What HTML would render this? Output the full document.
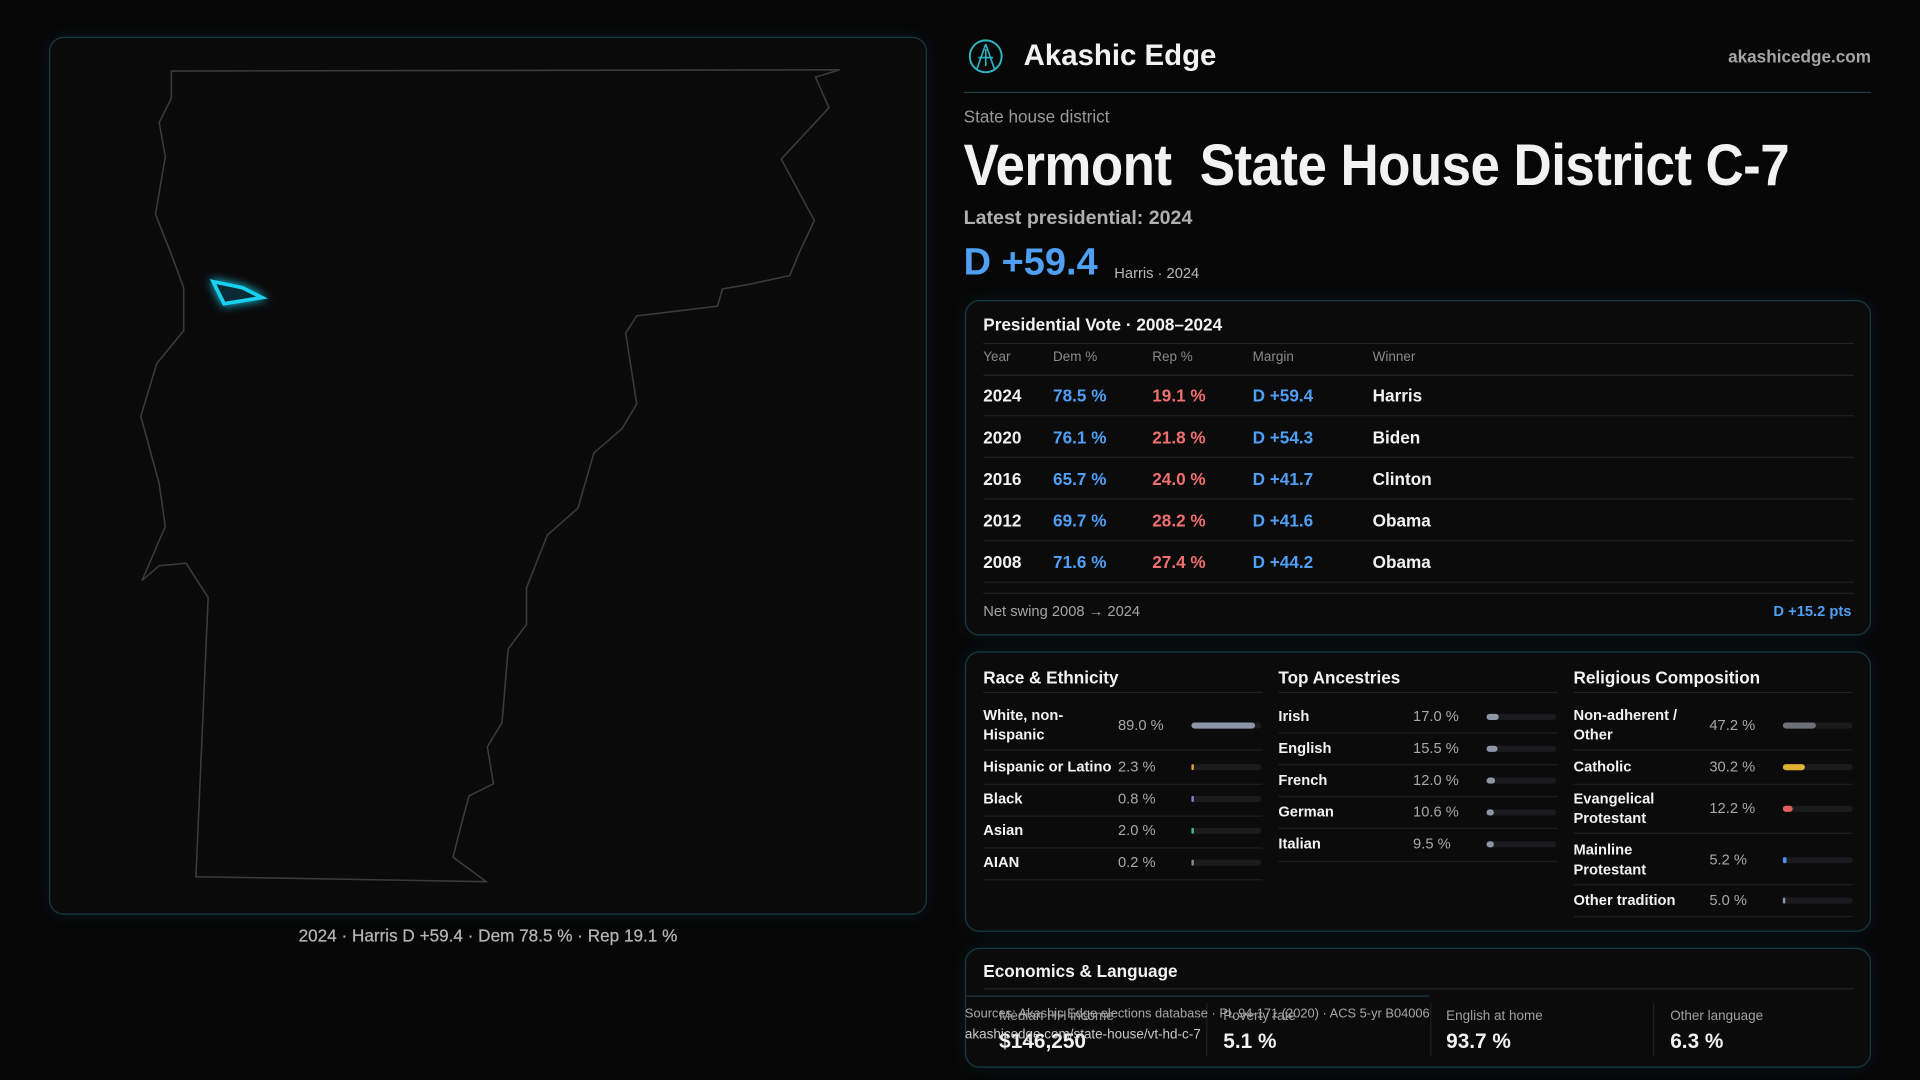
<!DOCTYPE html>
<html><head><meta charset="utf-8"><style>
*{margin:0;padding:0;box-sizing:border-box}
html,body{width:1920px;height:1080px;background:#070707;overflow:hidden}
#s{position:absolute;left:0;top:0;width:1568px;height:882px;transform:scale(1.22449);transform-origin:0 0;font-family:"Liberation Sans",sans-serif;color:#f2f2f2}
.a{position:absolute;white-space:nowrap}
.card{position:absolute;background:#0b0b0c;border:1px solid #173a42;border-radius:12px;box-shadow:0 0 14px rgba(20,90,110,.18)}
.hl{position:absolute;height:1px;background:#222}
.g{color:#a9a9a9}
.b{color:#4f9ff5}.r{color:#f07070}
.track{position:absolute;height:5px;border-radius:3px;background:#1b1b1d}
.fill{position:absolute;left:0;top:0;height:5px;border-radius:3px}
</style></head><body><div id="s">
<div class="card" style="left:40px;top:30px;width:717px;height:717px;background:#0a0a0b"></div>
<svg class="a" style="left:0;top:0" width="1568" height="882" viewBox="0 0 1568 882">
<polygon fill="none" stroke="#3a3a3c" stroke-width="1.3" points="140,58 686,57 666,63 677,88 638,130 665,180 652,208 645,225 613,232 590,236 586,250 520,258 511,272 520,330 508,350 485,370 472,415 447,437 430,480 430,510 415,530 410,590 398,610 403,640 383,650 375,680 370,700 397,720 160,716 170,488 152,460 130,462 116,474 135,430 130,395 115,340 128,297 150,270 150,235 140,208 127,175 135,128 130,100 140,80"/>
<polygon fill="#0c2a33" stroke="#19d0ef" stroke-width="3" style="filter:drop-shadow(0 0 4px #19d0ef)" points="174,230 198,235 214,243 183,248"/>
</svg>
<div class="a g" style="left:0;width:797px;text-align:center;top:756px;font-size:14px;color:#b5b5b5;-webkit-text-stroke:0.2px #b5b5b5">2024 · Harris D +59.4 · Dem 78.5 % · Rep 19.1 %</div>

<svg class="a" style="left:790px;top:31px" width="30" height="30" viewBox="0 0 30 30"><circle cx="15" cy="15" r="13" fill="none" stroke="#2fb6c4" stroke-width="1.6"/><path d="M15 5 L8 25 M15 5 L22 25 M9 16 H21 M15 9 V23" stroke="#2fb6c4" stroke-width="1.3" fill="none"/></svg>
<div class="a" style="left:836px;top:32px;font-size:24px;font-weight:bold">Akashic Edge</div>
<div class="a g" style="right:40px;top:38px;font-size:14px;font-weight:bold;color:#a5a5a5">akashicedge.com</div>
<div class="hl" style="left:787px;top:75px;width:741px;background:#1d3a40"></div>
<div class="a g" style="left:787px;top:87px;font-size:14px;color:#9a9a9a">State house district</div>
<div class="a" style="left:787px;top:108px;font-size:48px;font-weight:bold;transform:scaleX(.9);transform-origin:0 0;letter-spacing:-.5px">Vermont&nbsp; State House District C-7</div>
<div class="a g" style="left:787px;top:170px;font-size:16px;font-weight:bold;color:#b0b0b0">Latest presidential: 2024</div>
<div class="a b" style="left:787px;top:196px;font-size:31px;font-weight:bold">D +59.4</div>
<div class="a g" style="left:910px;top:216px;font-size:12px;color:#b8b8b8">Harris · 2024</div>

<div class="card" style="left:788px;top:245px;width:740px;height:274px">
 <div class="a" style="left:14px;top:11px;font-size:14px;font-weight:bold">Presidential Vote · 2008–2024</div>
 <div class="hl" style="left:14px;top:34px;width:711px"></div>
 <div class="a g" style="left:14px;top:40px;font-size:11px;color:#8a8a8a">Year</div>
 <div class="a g" style="left:71px;top:40px;font-size:11px;color:#8a8a8a">Dem %</div>
 <div class="a g" style="left:152px;top:40px;font-size:11px;color:#8a8a8a">Rep %</div>
 <div class="a g" style="left:234px;top:40px;font-size:11px;color:#8a8a8a">Margin</div>
 <div class="a g" style="left:332px;top:40px;font-size:11px;color:#8a8a8a">Winner</div>
 <div class="hl" style="left:14px;top:60px;width:711px"></div>
 <div style="position:absolute;left:14px;top:60px;width:711px;font-size:14px;font-weight:bold">
  <div style="position:relative;height:34px;border-bottom:1px solid #1f1f1f"><span class="a" style="left:0;top:9px">2024</span><span class="a b" style="left:57px;top:9px">78.5 %</span><span class="a r" style="left:138px;top:9px">19.1 %</span><span class="a b" style="left:220px;top:9px">D +59.4</span><span class="a" style="left:318px;top:9px">Harris</span></div>
  <div style="position:relative;height:34px;border-bottom:1px solid #1f1f1f"><span class="a" style="left:0;top:9px">2020</span><span class="a b" style="left:57px;top:9px">76.1 %</span><span class="a r" style="left:138px;top:9px">21.8 %</span><span class="a b" style="left:220px;top:9px">D +54.3</span><span class="a" style="left:318px;top:9px">Biden</span></div>
  <div style="position:relative;height:34px;border-bottom:1px solid #1f1f1f"><span class="a" style="left:0;top:9px">2016</span><span class="a b" style="left:57px;top:9px">65.7 %</span><span class="a r" style="left:138px;top:9px">24.0 %</span><span class="a b" style="left:220px;top:9px">D +41.7</span><span class="a" style="left:318px;top:9px">Clinton</span></div>
  <div style="position:relative;height:34px;border-bottom:1px solid #1f1f1f"><span class="a" style="left:0;top:9px">2012</span><span class="a b" style="left:57px;top:9px">69.7 %</span><span class="a r" style="left:138px;top:9px">28.2 %</span><span class="a b" style="left:220px;top:9px">D +41.6</span><span class="a" style="left:318px;top:9px">Obama</span></div>
  <div style="position:relative;height:34px;border-bottom:1px solid #1f1f1f"><span class="a" style="left:0;top:9px">2008</span><span class="a b" style="left:57px;top:9px">71.6 %</span><span class="a r" style="left:138px;top:9px">27.4 %</span><span class="a b" style="left:220px;top:9px">D +44.2</span><span class="a" style="left:318px;top:9px">Obama</span></div>
 </div>
 <div class="hl" style="left:14px;top:238px;width:711px"></div>
 <div class="a g" style="left:14px;top:246px;font-size:12px;color:#a5a5a5">Net swing 2008 → 2024</div>
 <div class="a b" style="right:15px;top:246px;font-size:12px;font-weight:bold">D +15.2 pts</div>
</div>

<div class="card" style="left:788px;top:532px;width:740px;height:229px">
 <div class="a" style="left:14px;top:12px;font-size:14px;font-weight:bold">Race &amp; Ethnicity</div>
 <div class="a" style="left:255px;top:12px;font-size:14px;font-weight:bold">Top Ancestries</div>
 <div class="a" style="left:496px;top:12px;font-size:14px;font-weight:bold">Religious Composition</div>
 <div class="hl" style="left:14px;top:32px;width:228px"></div>
 <div class="hl" style="left:255px;top:32px;width:228px"></div>
 <div class="hl" style="left:496px;top:32px;width:228px"></div>
</div>
<div id="rows"></div>

<div class="card" style="left:788px;top:774px;width:740px;height:98px">
 <div class="a" style="left:14px;top:10px;font-size:14px;font-weight:bold">Economics &amp; Language</div>
 <div class="hl" style="left:14px;top:32px;width:711px"></div>
 <div class="hl" style="left:0;top:38px;width:378px;background:#1d3a40"></div>
 <div class="a g" style="left:27px;top:49px;font-size:11px;color:#a0a0a0">Median HH income</div>
 <div class="a" style="left:27px;top:66px;font-size:17px;font-weight:bold">$146,250</div>
 <div class="a g" style="left:210px;top:49px;font-size:11px;color:#a0a0a0">Poverty rate</div>
 <div class="a" style="left:210px;top:66px;font-size:17px;font-weight:bold">5.1 %</div>
 <div class="a g" style="left:392px;top:49px;font-size:11px;color:#a0a0a0">English at home</div>
 <div class="a" style="left:392px;top:66px;font-size:17px;font-weight:bold">93.7 %</div>
 <div class="a g" style="left:575px;top:49px;font-size:11px;color:#a0a0a0">Other language</div>
 <div class="a" style="left:575px;top:66px;font-size:17px;font-weight:bold">6.3 %</div>
 <div style="position:absolute;left:196px;top:44px;width:1px;height:44px;background:#1f1f1f"></div>
 <div style="position:absolute;left:379px;top:44px;width:1px;height:44px;background:#1f1f1f"></div>
 <div style="position:absolute;left:561px;top:44px;width:1px;height:44px;background:#1f1f1f"></div>
 <div class="a g" style="left:-1px;top:47px;font-size:10.5px;color:#a8a8a8">Sources: Akashic Edge elections database · PL 94-171 (2020) · ACS 5-yr B04006</div>
 <div class="a" style="left:-1px;top:64px;font-size:11px;color:#c8c8c8">akashicedge.com/state-house/vt-hd-c-7</div>
</div>
<script>
var cols=[
 {x:803,vx:913,bx:973,rows:[["White, non-<br>Hispanic","89.0 %",592,52,"#8d96a6",612],["Hispanic or Latino","2.3 %",626,2,"#e0a030",640],["Black","0.8 %",652,1,"#8a7ae0",666],["Asian","2.0 %",678,2,"#30c090",692],["AIAN","0.2 %",704,0,"#888",718]]},
 {x:1044,vx:1154,bx:1214,rows:[["Irish","17.0 %",585,10,"#8d96a6",598],["English","15.5 %",611,9,"#8d96a6",624],["French","12.0 %",637,7,"#8d96a6",650],["German","10.6 %",663,6,"#8d96a6",676],["Italian","9.5 %",689,6,"#8d96a6",703]]},
 {x:1285,vx:1396,bx:1456,rows:[["Non-adherent /<br>Other","47.2 %",592,27,"#6b7079",612],["Catholic","30.2 %",626,18,"#e0b030",640],["Evangelical<br>Protestant","12.2 %",660,8,"#e06060",680],["Mainline<br>Protestant","5.2 %",702,3,"#4f8ff0",722],["Other tradition","5.0 %",735,2,"#8d96a6",748]]}];
var h='';
cols.forEach(function(c){c.rows.forEach(function(r){
 var two=r[0].indexOf('<br>')>=0;
 h+='<div class="a" style="left:'+c.x+'px;top:'+(r[2]-(two?16:8))+'px;font-size:12px;font-weight:bold;line-height:16px">'+r[0]+'</div>';
 h+='<div class="a g" style="left:'+c.vx+'px;top:'+(r[2]-8)+'px;font-size:12px;line-height:16px;color:#a8a8a8">'+r[1]+'</div>';
 h+='<div class="track" style="left:'+c.bx+'px;top:'+(r[2]-2)+'px;width:57px"><div class="fill" style="width:'+Math.max(r[3],2)+'px;background:'+r[4]+'"></div></div>';
 h+='<div class="hl" style="left:'+c.x+'px;top:'+r[5]+'px;width:228px;background:#1f1f1f"></div>';
});});
document.getElementById('rows').innerHTML=h;
</script>
</div></body></html>
